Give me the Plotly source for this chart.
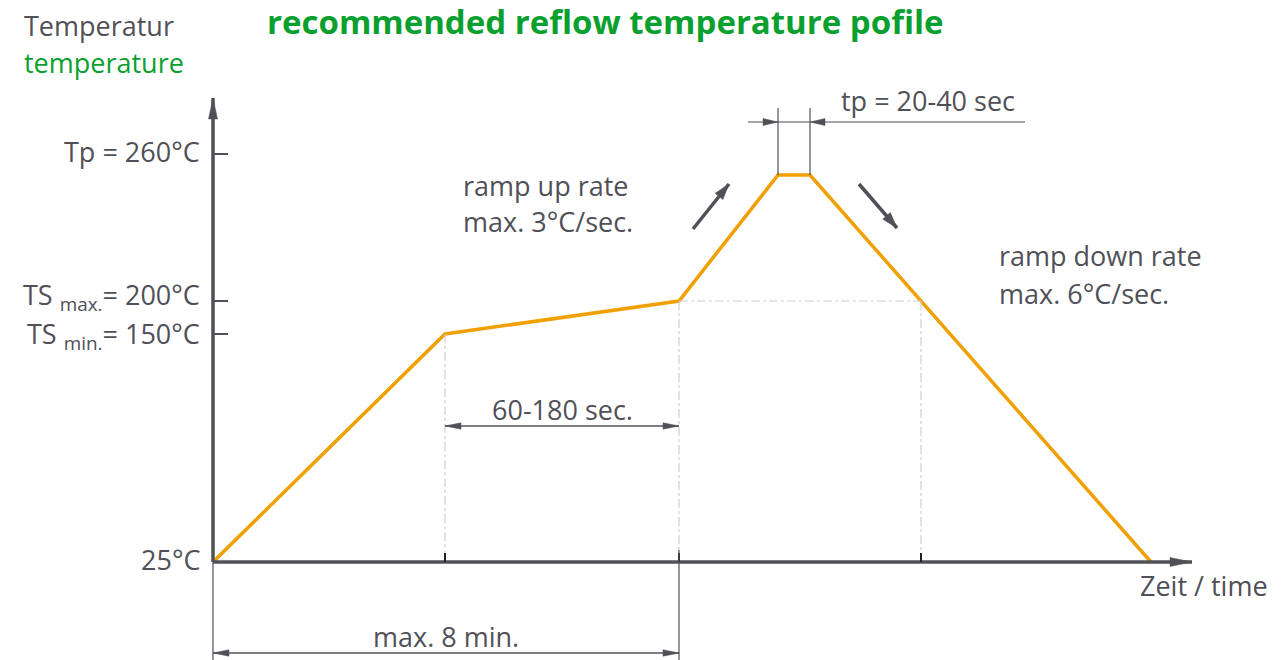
import math
import plotly.graph_objects as go

# ---------------- data (schematic units: time along x, temperature level along y) -------------
profile_time = [0, 232, 466, 565, 597, 708, 938]
profile_level = [0, 228, 261, 387, 387, 261, 0]

y_tick_levels = [0, 228, 261, 408]
y_tick_labels = ["25°C", "TS <sub>min.</sub>= 150°C", "TS <sub>max.</sub>= 200°C", "Tp = 260°C"]

x_tick_times = [232, 466, 708]

title_text = "recommended reflow temperature pofile"
y_title_de = "Temperatur"
y_title_en = "temperature"
x_title = "Zeit / time"

# ---------------- styles ----------------
FONT = "Open Sans"
GRAY = "#505058"
GREEN = "#0aa030"
ORANGE = "#f0a000"
LIGHT = "#cfcfcf"
FS = 27

X_MIN, X_MAX = -213, 1071
Y_MIN, Y_MAX = -98, 562

fig = go.Figure()


def line(x0, y0, x1, y1, color=GRAY, width=1.2, dash=None):
    fig.add_shape(type="line", x0=x0, y0=y0, x1=x1, y1=y1, xref="x", yref="y",
                  line=dict(color=color, width=width, dash=dash), layer="above")


def head(tx, ty, fx, fy, length, half, color=GRAY):
    """Filled arrow head with tip at (tx,ty) pointing away from (fx,fy)."""
    dx, dy = tx - fx, ty - fy
    d = math.hypot(dx, dy)
    ux, uy = dx / d, dy / d
    bx, by = tx - ux * length, ty - uy * length
    px, py = -uy * half, ux * half
    path = (f"M{tx},{ty} L{bx + px},{by + py} L{bx - px},{by - py} Z")
    fig.add_shape(type="path", path=path, xref="x", yref="y", fillcolor=color,
                  line=dict(color=color, width=0.5), layer="above")


def arrow(fx, fy, tx, ty, width, length, half, both=False, color=GRAY):
    line(fx, fy, tx, ty, color=color, width=width)
    head(tx, ty, fx, fy, length, half, color)
    if both:
        head(fx, fy, tx, ty, length, half, color)


def text(x, y, s, anchor="center", color=GRAY, size=FS):
    fig.add_annotation(x=x, y=y, xref="x", yref="y", text=s, showarrow=False,
                       xanchor=anchor, yanchor="middle",
                       font=dict(family=FONT, size=size, color=color))


soak_start, soak_end = profile_time[1], profile_time[2]
peak_start, peak_end = profile_time[3], profile_time[4]
cool_cross = profile_time[5]
lvl_min, lvl_max, lvl_peak = profile_level[1], profile_level[2], profile_level[3]

# reference dash-dot guide lines
for x0, y0, x1, y1 in [(soak_start, lvl_min, soak_start, 8),
                       (soak_end, lvl_max, soak_end, 8),
                       (cool_cross, lvl_max, cool_cross, 8),
                       (soak_end, lvl_max, cool_cross, lvl_max)]:
    line(x0, y0, x1, y1, color=LIGHT, width=1.2, dash="dashdot")

# axes as arrows
arrow(0, 0, 979, 0, width=3.5, length=22, half=4.5)
arrow(0, 0, 0, 464, width=3.5, length=21, half=4.5)

# y ticks and labels (small vertical nudges keep the close TS labels apart)
label_nudge = [3, -1, 5, 3]
for lv, lab, nd in zip(y_tick_levels, y_tick_labels, label_nudge):
    if lv > 0:
        line(0, lv, 15, lv, width=2)
    text(-11, lv + nd, lab, anchor="right")

# x ticks
for t in x_tick_times:
    line(t, 0, t, 9, color="#222222", width=2)

# dimension: max. 8 min.
dim_y = -91
line(0, 0, 0, Y_MIN)
line(soak_end, 12, soak_end, Y_MIN)
arrow(0, dim_y, soak_end, dim_y, width=1.3, length=16, half=3.2, both=True)
text(soak_end / 2, dim_y + 17, "max. 8 min.")

# dimension: 60-180 sec.
soak_dim_y = 136
arrow(soak_start, soak_dim_y, soak_end, soak_dim_y, width=1.3, length=16, half=3.2, both=True)
text((soak_start + soak_end) / 2, soak_dim_y + 17, "60-180 sec.")

# dimension: tp
tp_y = 440
for t in (peak_start, peak_end):
    line(t, lvl_peak, t, 454)
line(535, tp_y, 812, tp_y)
head(peak_start, tp_y, 535, tp_y, 15, 3.5)
head(peak_end, tp_y, 812, tp_y, 15, 3.5)
text(715, tp_y + 22, "tp = 20-40 sec")

# profile curve
fig.add_trace(go.Scatter(x=profile_time, y=profile_level, mode="lines",
                         line=dict(color=ORANGE, width=3.5), hoverinfo="skip",
                         showlegend=False))

# ramp arrows
arrow(480, 333, 516, 378, width=3.5, length=16, half=5)
arrow(646, 378, 684, 334, width=3.5, length=16, half=5)

# text labels
for txt, tx, ty in [("ramp up rate", 248, 377), ("max. 3°C/sec.", 248, 341),
                    ("ramp down rate", 784, 307), ("max. 6°C/sec.", 784, 269),
                    (x_title, 925, -23)]:
    text(tx, ty, txt, anchor="left")

text(-191, 537, y_title_de, anchor="left")
text(-191, 500, y_title_en, anchor="left", color=GREEN)
text(392, 541, "<b>" + title_text + "</b>", size=33, color=GREEN)

fig.update_xaxes(range=[X_MIN, X_MAX], visible=False, fixedrange=True)
fig.update_yaxes(range=[Y_MIN, Y_MAX], visible=False, fixedrange=True)
fig.update_layout(width=1284, height=660, margin=dict(l=0, r=0, t=0, b=0),
                  paper_bgcolor="white", plot_bgcolor="white", showlegend=False)

fig.write_html("out.html", config={"displayModeBar": False},
               post_script="document.body.style.margin='0';"
                           "document.body.style.overflow='hidden';")
